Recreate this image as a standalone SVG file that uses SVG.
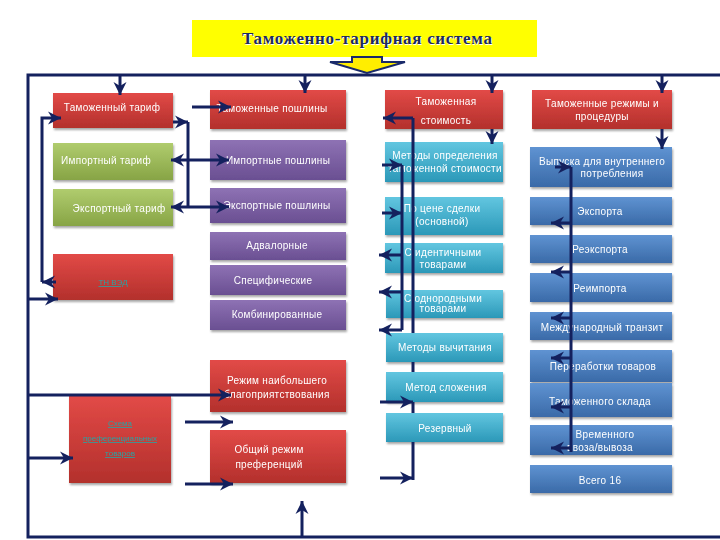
<svg xmlns="http://www.w3.org/2000/svg" width="720" height="540" viewBox="0 0 720 540">
<style>
.t{font-family:"Liberation Sans",Arial,sans-serif;font-size:10px;fill:#ffffff;text-anchor:middle;letter-spacing:0.3px}
.ln{fill:none;stroke:#14215e;stroke-width:3}
.ar{fill:none;stroke:#14215e;stroke-width:3;marker-end:url(#ah)}
.lk{font-family:"Liberation Sans",Arial,sans-serif;font-size:8px;fill:#2aa3a3;text-anchor:middle;text-decoration:underline}
</style>
<defs>
<linearGradient id="gr" x1="0" y1="0" x2="0" y2="1"><stop offset="0" stop-color="#e24a47"/><stop offset="1" stop-color="#b3302c"/></linearGradient>
<linearGradient id="gg" x1="0" y1="0" x2="0" y2="1"><stop offset="0" stop-color="#b0cc6e"/><stop offset="1" stop-color="#87a445"/></linearGradient>
<linearGradient id="gp" x1="0" y1="0" x2="0" y2="1"><stop offset="0" stop-color="#8e72b4"/><stop offset="1" stop-color="#6a4f92"/></linearGradient>
<linearGradient id="gc" x1="0" y1="0" x2="0" y2="1"><stop offset="0" stop-color="#62c6e0"/><stop offset="1" stop-color="#2b98b8"/></linearGradient>
<linearGradient id="gb" x1="0" y1="0" x2="0" y2="1"><stop offset="0" stop-color="#5f93d2"/><stop offset="1" stop-color="#3a6aa8"/></linearGradient>
<filter id="sh" x="-10%" y="-10%" width="130%" height="140%"><feDropShadow dx="1" dy="2" stdDeviation="1.2" flood-color="#000" flood-opacity="0.35"/></filter>
<marker id="ah" markerUnits="userSpaceOnUse" markerWidth="15" markerHeight="15" refX="13" refY="7.5" orient="auto"><path d="M0,1 L13,7.5 L0,14 L4,7.5 z" fill="#14215e"/></marker>
</defs>
<rect width="720" height="540" fill="#ffffff"/>
<g id="title">
<rect x="192" y="20" width="345" height="37" fill="#ffff00"/>
<text x="368" y="45" font-family="'Liberation Serif',serif" font-weight="bold" font-size="17" fill="#ffffff" text-anchor="middle" textLength="250">Таможенно-тарифная система</text>
<text x="367" y="44" font-family="'Liberation Serif',serif" font-weight="bold" font-size="17" fill="#1c2a5c" text-anchor="middle" textLength="250">Таможенно-тарифная система</text>
<polygon points="352,57 382,57 382,62 405,62 367,73 330,62 352,62" fill="#ffee00" stroke="#1a2a6a" stroke-width="2"/>
</g>
<g id="n-tarif" filter="url(#sh)"><rect x="53" y="93" width="120" height="35" fill="url(#gr)"/><text class="t" x="112" y="111">Таможенный тариф</text></g>
<g id="n-imptarif" filter="url(#sh)"><rect x="53" y="143" width="120" height="37" fill="url(#gg)"/><text class="t" x="106" y="164">Импортный тариф</text></g>
<g id="n-exptarif" filter="url(#sh)"><rect x="53" y="189" width="120" height="37" fill="url(#gg)"/><text class="t" x="119" y="212">Экспортный тариф</text></g>
<g id="n-tnved" filter="url(#sh)"><rect x="53" y="254" width="120" height="46" fill="url(#gr)"/><text class="lk" x="113" y="285">ТН ВЭД</text></g>
<g id="n-scheme" filter="url(#sh)"><rect x="69" y="396" width="102" height="87" fill="url(#gr)"/><text class="lk" x="120" y="426">Схема</text><text class="lk" x="120" y="441">преференциальных</text><text class="lk" x="120" y="456">товаров</text></g>

<g id="n-poshl" filter="url(#sh)"><rect x="210" y="90" width="136" height="39" fill="url(#gr)"/><text class="t" x="272" y="112">Таможенные пошлины</text></g>
<g id="n-impposhl" filter="url(#sh)"><rect x="210" y="140" width="136" height="40" fill="url(#gp)"/><text class="t" x="278" y="164">Импортные пошлины</text></g>
<g id="n-expposhl" filter="url(#sh)"><rect x="210" y="188" width="136" height="35" fill="url(#gp)"/><text class="t" x="277" y="209">Экспортные пошлины</text></g>
<g id="n-advalor" filter="url(#sh)"><rect x="210" y="232" width="136" height="28" fill="url(#gp)"/><text class="t" x="277" y="249">Адвалорные</text></g>
<g id="n-spec" filter="url(#sh)"><rect x="210" y="265" width="136" height="30" fill="url(#gp)"/><text class="t" x="273" y="284">Специфические</text></g>
<g id="n-komb" filter="url(#sh)"><rect x="210" y="300" width="136" height="30" fill="url(#gp)"/><text class="t" x="277" y="318">Комбинированные</text></g>
<g id="n-mfn" filter="url(#sh)"><rect x="210" y="360" width="136" height="52" fill="url(#gr)"/><text class="t" x="277" y="384">Режим наибольшего</text><text class="t" x="277" y="398">благоприятствования</text></g>
<g id="n-gsp" filter="url(#sh)"><rect x="210" y="430" width="136" height="53" fill="url(#gr)"/><text class="t" x="269" y="453">Общий  режим</text><text class="t" x="269" y="468">преференций</text></g>

<g id="n-stoim" filter="url(#sh)"><rect x="385" y="90" width="118" height="39" fill="url(#gr)"/><text class="t" x="446" y="105">Таможенная</text><text class="t" x="446" y="124">стоимость</text></g>
<g id="n-metody" filter="url(#sh)"><rect x="385" y="142" width="118" height="40" fill="url(#gc)"/><text class="t" x="445" y="159">Методы определения</text><text class="t" x="445" y="172">таможенной стоимости</text></g>
<g id="n-cena" filter="url(#sh)"><rect x="385" y="197" width="118" height="38" fill="url(#gc)"/><text class="t" x="442" y="212">По цене сделки</text><text class="t" x="442" y="225">(основной)</text></g>
<g id="n-ident" filter="url(#sh)"><rect x="385" y="243" width="118" height="30" fill="url(#gc)"/><text class="t" x="443" y="256">С идентичными</text><text class="t" x="443" y="268">товарами</text></g>
<g id="n-odnor" filter="url(#sh)"><rect x="386" y="290" width="117" height="28" fill="url(#gc)"/><text class="t" x="443" y="302">С однородными</text><text class="t" x="443" y="312">товарами</text></g>
<g id="n-vych" filter="url(#sh)"><rect x="386" y="333" width="117" height="29" fill="url(#gc)"/><text class="t" x="445" y="351">Методы вычитания</text></g>
<g id="n-slozh" filter="url(#sh)"><rect x="386" y="372" width="117" height="30" fill="url(#gc)"/><text class="t" x="446" y="391">Метод сложения</text></g>
<g id="n-rezerv" filter="url(#sh)"><rect x="386" y="413" width="117" height="29" fill="url(#gc)"/><text class="t" x="445" y="432">Резервный</text></g>

<g id="n-rezhimy" filter="url(#sh)"><rect x="532" y="90" width="140" height="39" fill="url(#gr)"/><text class="t" x="602" y="107">Таможенные режимы и</text><text class="t" x="602" y="120">процедуры</text></g>
<g id="n-vypusk" filter="url(#sh)"><rect x="530" y="147" width="142" height="40" fill="url(#gb)"/><text class="t" x="602" y="165">Выпуска для внутреннего</text><text class="t" x="612" y="177">потребления</text></g>
<g id="n-eksport" filter="url(#sh)"><rect x="530" y="197" width="142" height="28" fill="url(#gb)"/><text class="t" x="600" y="215">Экспорта</text></g>
<g id="n-reeksport" filter="url(#sh)"><rect x="530" y="235" width="142" height="28" fill="url(#gb)"/><text class="t" x="600" y="253">Реэкспорта</text></g>
<g id="n-reimport" filter="url(#sh)"><rect x="530" y="273" width="142" height="29" fill="url(#gb)"/><text class="t" x="600" y="292">Реимпорта</text></g>
<g id="n-tranzit" filter="url(#sh)"><rect x="530" y="312" width="142" height="28" fill="url(#gb)"/><text class="t" x="602" y="331">Международный транзит</text></g>
<g id="n-pererab" filter="url(#sh)"><rect x="530" y="350" width="142" height="32" fill="url(#gb)"/><text class="t" x="603" y="370">Переработки товаров</text></g>
<g id="n-sklad" filter="url(#sh)"><rect x="530" y="383" width="142" height="34" fill="url(#gb)"/><text class="t" x="600" y="405">Таможенного склада</text></g>
<g id="n-vremen" filter="url(#sh)"><rect x="530" y="425" width="142" height="30" fill="url(#gb)"/><text class="t" x="605" y="438">Временного</text><text class="t" x="600" y="451">ввоза/вывоза</text></g>
<g id="n-vsego" filter="url(#sh)"><rect x="530" y="465" width="142" height="28" fill="url(#gb)"/><text class="t" x="600" y="484">Всего 16</text></g>

<g id="connectors">
<polyline class="ln" stroke-width="4" points="720,75 28,75 28,537 720,537"/>
<path class="ar" d="M120,75 V95"/>
<path class="ar" d="M305,75 V93"/>
<path class="ar" d="M492,75 V93"/>
<path class="ar" d="M662,75 V93"/>
<path class="ar" d="M192,107 H231"/>
<path class="ln" d="M188,122 V207"/>
<path class="ar" d="M173,122 H188"/>
<path class="ar" d="M188,160 H171"/>
<path class="ar" d="M188,160 H229"/>
<path class="ar" d="M188,207 H171"/>
<path class="ar" d="M188,207 H229"/>
<path class="ar" d="M42,282 V118 H61"/>
<path class="ar" d="M56,282 H42"/>
<path class="ar" d="M28,299 H58"/>
<path class="ar" d="M28,395 H231"/>
<path class="ar" d="M28,458 H73"/>
<path class="ar" d="M185,422 H233"/>
<path class="ar" d="M185,484 H233"/>
<path class="ar" d="M302,537 V501"/>
<path class="ar" d="M492,129 V144"/>
<path class="ln" d="M413,118 V333 M413,362 V372 M413,402 V413 M413,442 V480"/>
<path class="ar" d="M413,118 H383"/>
<path class="ar" d="M380,402 H413"/>
<path class="ar" d="M380,478 H413"/>
<path class="ln" d="M402,165 V330"/>
<path class="ar" d="M382,165 H402"/>
<path class="ar" d="M382,213 H402"/>
<path class="ar" d="M402,255 H379"/>
<path class="ar" d="M402,292 H379"/>
<path class="ar" d="M402,330 H379"/>
<path class="ar" d="M662,129 V149"/>
<path class="ln" d="M571,167 V452"/>
<path class="ar" d="M555,167 H571"/>
<path class="ar" d="M571,223 H551"/>
<path class="ar" d="M571,272 H551"/>
<path class="ar" d="M571,318 H551"/>
<path class="ar" d="M571,358 H551"/>
<path class="ar" d="M571,407 H551"/>
<path class="ar" d="M571,448 H551"/>
</g>
</svg>
